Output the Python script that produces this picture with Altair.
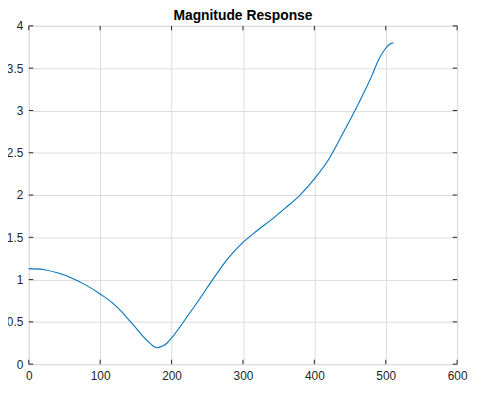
import altair as alt
import pandas as pd

# Curve samples
xs = [0, 20, 40, 60, 80, 100, 120, 130, 140, 150, 160, 170, 175, 180, 185,
      193, 200, 210, 220, 240, 260, 280, 300, 320, 340, 360, 380, 400, 420,
      440, 460, 470, 480, 490, 500, 505, 511]
ys = [1.13, 1.12, 1.08, 1.02, 0.935, 0.83, 0.705, 0.62, 0.525, 0.43, 0.33, 0.245,
      0.21, 0.195, 0.205, 0.245, 0.31, 0.42, 0.54, 0.78, 1.03, 1.26, 1.44,
      1.58, 1.71, 1.85, 2.00, 2.19, 2.42, 2.73, 3.05, 3.22, 3.40, 3.60, 3.735,
      3.78, 3.80]

x_ticks = [0, 100, 200, 300, 400, 500, 600]
y_ticks = [0, 0.5, 1, 1.5, 2, 2.5, 3, 3.5, 4]

W, H = 433, 342
FONT = "Liberation Sans"
TXT = "#262626"

df = pd.DataFrame({"x": xs, "y": ys})
dfx = pd.DataFrame({"x": x_ticks})
dfy = pd.DataFrame({"y": y_ticks})

xscale = alt.Scale(domain=[0, 600], nice=False, zero=False)
yscale = alt.Scale(domain=[0, 4], nice=False, zero=False)

xaxis = alt.Axis(values=x_ticks, grid=True, gridColor="#dcdcdc", gridWidth=1,
                 domain=False, ticks=False, labelFont=FONT, labelFontSize=12,
                 labelColor=TXT, labelPadding=6, title=None, labelFlush=False)
yaxis = alt.Axis(values=y_ticks, grid=True, gridColor="#dcdcdc", gridWidth=1,
                 domain=False, ticks=False, labelFont=FONT, labelFontSize=12,
                 labelColor=TXT, labelPadding=6, title=None, labelFlush=False,
                 format="~g")

line = alt.Chart(df).mark_line(color="#0072BD", strokeWidth=1.1,
                               interpolate="monotone").encode(
    x=alt.X("x:Q", scale=xscale, axis=xaxis),
    y=alt.Y("y:Q", scale=yscale, axis=yaxis),
)

tick_color = "#262626"
bot = alt.Chart(dfx).mark_rule(color=tick_color, strokeWidth=1).encode(
    x=alt.X("x:Q", scale=xscale), y=alt.value(H), y2=alt.value(H - 4.5))
top = alt.Chart(dfx).mark_rule(color=tick_color, strokeWidth=1).encode(
    x=alt.X("x:Q", scale=xscale), y=alt.value(0), y2=alt.value(4.5))
left = alt.Chart(dfy).mark_rule(color=tick_color, strokeWidth=1).encode(
    y=alt.Y("y:Q", scale=yscale), x=alt.value(0), x2=alt.value(4.5))
right = alt.Chart(dfy).mark_rule(color=tick_color, strokeWidth=1).encode(
    y=alt.Y("y:Q", scale=yscale), x=alt.value(W), x2=alt.value(W - 4.5))

chart = alt.layer(line, bot, top, left, right).properties(
    width=W, height=H,
    title=alt.TitleParams("Magnitude Response", font=FONT, fontSize=14,
                          fontWeight="bold", color="#000000", offset=0,
                          dy=3, anchor="middle", frame="group"),
    autosize=alt.AutoSizeParams(type="none"),
    padding={"left": 21, "top": 16, "right": 12, "bottom": 20},
).configure_view(stroke="#262626", strokeWidth=1).configure(background="white")

chart.save("out.html", embed_options={"renderer": "svg", "actions": False})
